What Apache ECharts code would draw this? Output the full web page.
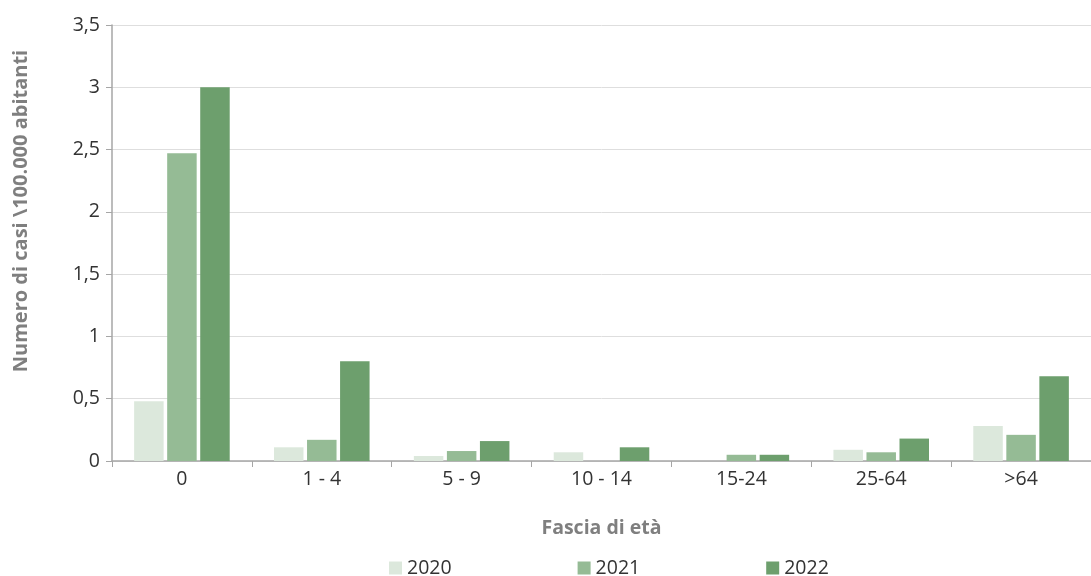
<!DOCTYPE html>
<html>
<head>
<meta charset="utf-8">
<script src="https://cdn.jsdelivr.net/npm/echarts@6/dist/echarts.min.js"></script>
<style>html,body{margin:0;padding:0;background:#fff}#c{width:1091px;height:576px}</style>
</head>
<body>
<div id="c"></div>
<script>
var categories = ["0", "1 - 4", "5 - 9", "10 - 14", "15-24", "25-64", ">64"];
var years = ["2020", "2021", "2022"];
var v2020 = [0.48, 0.11, 0.04, 0.07, 0, 0.09, 0.28];
var v2021 = [2.47, 0.17, 0.08, 0, 0.05, 0.07, 0.21];
var v2022 = [3.0, 0.80, 0.16, 0.11, 0.05, 0.18, 0.68];
var yTicks = [0, 0.5, 1, 1.5, 2, 2.5, 3, 3.5];
var colors = ["#dce8dc", "#95bb95", "#6d9f6d"];
var FONT = "Open Sans";

var chart = echarts.init(document.getElementById('c'), null, {renderer: 'canvas'});
var seriesData = [v2020, v2021, v2022];
chart.setOption({
  animation: false,
  textStyle: {fontFamily: FONT},
  color: colors,
  grid: {left: 112, top: 25, width: 987, bottom: 115, containLabel: false},
  legend: {
    data: years,
    left: 389, top: 558,
    padding: 0,
    itemWidth: 13, itemHeight: 13, itemGap: 126,
    icon: 'rect',
    textStyle: {fontSize: 19.5, color: '#333', fontFamily: FONT}
  },
  graphic: [{
    type: 'text',
    x: 21, y: 211,
    rotation: Math.PI / 2,
    style: {
      text: "Numero di casi \\100.000 abitanti",
      fill: '#7f7f7f',
      font: 'bold 20px "Open Sans"',
      textAlign: 'center',
      textVerticalAlign: 'middle'
    }
  }],
  xAxis: {
    type: 'category',
    data: categories,
    name: 'Fascia di età',
    nameLocation: 'middle',
    nameGap: 57,
    nameTextStyle: {fontSize: 19.5, fontWeight: 'bold', color: '#7f7f7f'},
    axisLine: {lineStyle: {color: '#a6a6a6', width: 1.5}},
    axisTick: {show: true, length: 6, lineStyle: {color: '#a6a6a6'}},
    axisLabel: {fontSize: 19.5, color: '#333', margin: 8}
  },
  yAxis: {
    type: 'value',
    min: 0, max: 3.5, interval: 0.5,
    axisLine: {show: true, lineStyle: {color: '#a6a6a6', width: 1.5}},
    axisTick: {show: true, length: 6, lineStyle: {color: '#a6a6a6'}},
    splitLine: {lineStyle: {color: '#dedede', width: 1}},
    axisLabel: {
      fontSize: 19.5, color: '#333', margin: 12,
      formatter: function (v) {
        return yTicks.indexOf(v) >= 0 ? String(v).replace('.', ',') : '';
      }
    }
  },
  series: years.map(function (y, i) {
    return {
      name: y,
      type: 'bar',
      data: seriesData[i],
      barWidth: 29.5,
      barGap: '12%',
      itemStyle: {color: colors[i]}
    };
  })
});
</script>
</body>
</html>
